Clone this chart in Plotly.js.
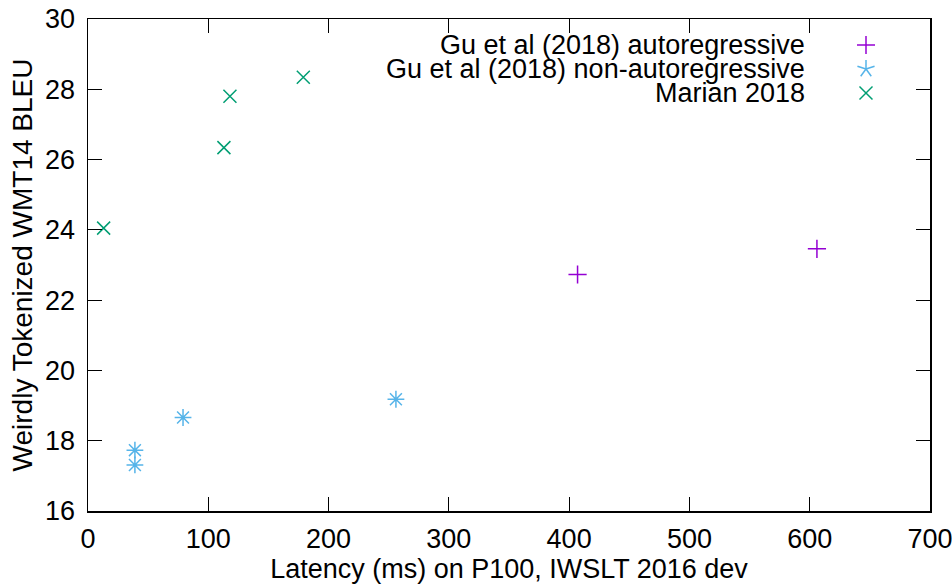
<!DOCTYPE html>
<html>
<head>
<meta charset="utf-8">
<script src="https://cdn.plot.ly/plotly-3.0.1.min.js"></script>
<style>html,body{margin:0;padding:0;background:#fff;}#chart{width:952px;height:585px;}</style>
</head>
<body>
<div id="chart"></div>
<script>
// ---- data ----
const seriesNames = ["Gu et al (2018) autoregressive", "Gu et al (2018) non-autoregressive", "Marian 2018"];
const arLatency = [407, 606];
const arBleu = [22.73, 23.46];
const narLatency = [39, 39, 79, 256];
const narBleu = [17.73, 17.31, 18.66, 19.18];
const marianLatency = [13, 113, 118, 179];
const marianBleu = [24.05, 26.34, 27.80, 28.34];
const xTickVals = [0, 100, 200, 300, 400, 500, 600, 700];
const yTickVals = [16, 18, 20, 22, 24, 26, 28, 30];
const xTitle = "Latency (ms) on P100, IWSLT 2016 dev";
const yTitle = "Weirdly Tokenized WMT14 BLEU";

// ---- styling ----
const colors = ["#9400d3", "#56b4e9", "#009e73"];
const FONT = "Liberation Sans, Arial, sans-serif";
const FS = 27;
const W = 952, H = 585;
const L = 88, R = 930, T = 19, B = 511;

const traces = [
  {x: arLatency, y: arBleu, name: seriesNames[0], type: "scatter", mode: "markers",
   marker: {symbol: "cross-thin-open", size: 13, color: colors[0], line: {color: colors[0], width: 1.5}}},
  {x: narLatency, y: narBleu, name: seriesNames[1], type: "scatter", mode: "markers",
   marker: {symbol: "asterisk-open", size: 14, color: colors[1], line: {color: colors[1], width: 1.5}}},
  {x: marianLatency, y: marianBleu, name: seriesNames[2], type: "scatter", mode: "markers",
   marker: {symbol: "x-thin-open", size: 13, color: colors[2], line: {color: colors[2], width: 1.5}}}
];

// legend drawn gnuplot-style: text right-aligned, key to the right
function px(x) { return (x - L) / (R - L); }
function py(y) { return (B - y) / (B - T); }
const legendTextX = 806, legendKeyX = 866;
const legendY = [45, 69, 93];
const annotations = seriesNames.map((n, i) => ({
  xref: "paper", yref: "paper", x: px(legendTextX), y: py(legendY[i]),
  xanchor: "right", yanchor: "middle", text: n, showarrow: false,
  borderpad: 0,
  font: {family: FONT, size: FS, color: "#000"}
}));
const shapes = [];
function seg(cx, cy, dx, dy, color) {
  shapes.push({type: "line", xref: "paper", yref: "paper",
    x0: px(cx - dx), y0: py(cy - dy), x1: px(cx + dx), y1: py(cy + dy),
    line: {color: color, width: 1.5}});
}
// plus
seg(legendKeyX, legendY[0], 9, 0, colors[0]);
seg(legendKeyX, legendY[0], 0, 9, colors[0]);
// asterisk (5 arms)
[90, 18, 162, 234, 306].forEach(a => {
  const r = a * Math.PI / 180;
  shapes.push({type: "line", xref: "paper", yref: "paper",
    x0: px(legendKeyX), y0: py(legendY[1]),
    x1: px(legendKeyX + 9 * Math.cos(r)), y1: py(legendY[1] - 9 * Math.sin(r)),
    line: {color: colors[1], width: 1.5}});
});
// cross
seg(legendKeyX, legendY[2], 6.5, 6.5, colors[2]);
seg(legendKeyX, legendY[2], 6.5, -6.5, colors[2]);

const axisCommon = {
  showgrid: false, zeroline: false, showline: true, linecolor: "#000", linewidth: 1.5,
  mirror: "ticks", ticks: "inside", ticklen: 14, tickwidth: 1, tickcolor: "#000",
  ticklabeloverflow: "allow",
  tickfont: {family: FONT, size: FS, color: "#000"}
};

const layout = {
  width: W, height: H,
  margin: {l: L, r: W - R, t: T, b: H - B, pad: 0},
  paper_bgcolor: "#fff", plot_bgcolor: "#fff",
  showlegend: false,
  font: {family: FONT, size: FS, color: "#000"},
  xaxis: Object.assign({}, axisCommon, {
    range: [0, 700], tickvals: xTickVals, ticktext: xTickVals.map(String),
    ticklabelstandoff: 3,
    title: {text: xTitle, font: {family: FONT, size: FS, color: "#000"}, standoff: 6}
  }),
  yaxis: Object.assign({}, axisCommon, {
    range: [16, 30], tickvals: yTickVals, ticktext: yTickVals.map(String),
    ticklabelstandoff: 6,
    title: {text: yTitle, font: {family: FONT, size: 28, color: "#000"}, standoff: 4}
  }),
  annotations: annotations,
  shapes: shapes
};

Plotly.newPlot("chart", traces, layout, {displayModeBar: false, staticPlot: true});
</script>
</body>
</html>
